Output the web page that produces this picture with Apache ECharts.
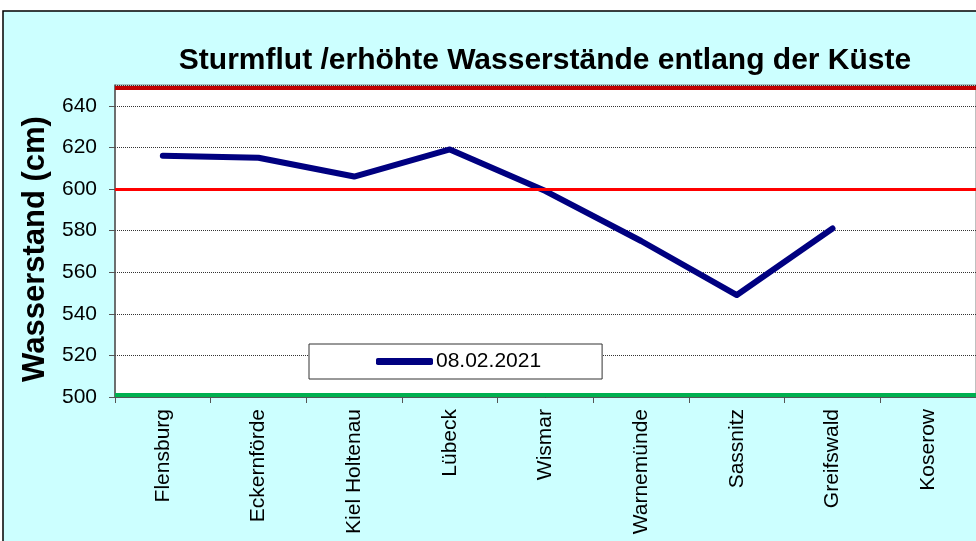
<!DOCTYPE html>
<html><head><meta charset="utf-8">
<script src="https://cdn.jsdelivr.net/npm/echarts@6/dist/echarts.min.js"></script>
<style>html,body{margin:0;padding:0;background:#fff}#c{width:976px;height:541px}</style>
</head><body><div id="c"></div>
<script>
const titleText = 'Sturmflut /erhöhte Wasserstände entlang der Küste';
const yAxisName = 'Wasserstand (cm)';
const categories = ['Flensburg','Eckernförde','Kiel Holtenau','Lübeck','Wismar','Warnemünde','Sassnitz','Greifswald','Koserow'];
const seriesName = '08.02.2021';
const levels = [616, 615, 606, 619, 599, 575, 549, 581, null];
const yMin = 500, yMax = 650, yStep = 20;
const upperLine = 648.5;   // dark red line at top
const warnLine = 600;      // red line
const lowerLine = 501;     // green line at bottom

const chart = echarts.init(document.getElementById('c'), null, {renderer:'canvas'});
const F = 'Liberation Sans, Arial, sans-serif';
chart.setOption({
  animation:false,
  backgroundColor:'#fff',
  graphic:[
    {type:'rect', z:-10, shape:{x:3,y:11,width:990,height:560}, style:{fill:'#CCFFFF', stroke:'#000', lineWidth:1.5}},
    {type:'text', z:10, x:35, y:249, rotation:Math.PI/2,
      style:{text:yAxisName, fontFamily:F, fontSize:31, fontWeight:'bold', fill:'#000', align:'center', verticalAlign:'middle'}}
  ],
  title:{text:titleText, left:540, textAlign:'center', top:41,
    textStyle:{fontFamily:F, fontSize:30, fontWeight:'bold', color:'#000'}},
  legend:{data:[{name:seriesName}], left:309, top:344, orient:'horizontal',
    backgroundColor:'#fff', borderColor:'#333', borderWidth:1, padding:[7,61,7,67],
    itemWidth:57, itemHeight:7, itemGap:0, icon:'roundRect',
    textStyle:{fontFamily:F, fontSize:21, color:'#000', padding:[0,0,0,-2]}},
  grid:{left:115, top:85, width:864, height:312, show:true, backgroundColor:'#fff', borderColor:'#808080', borderWidth:1},
  xAxis:{type:'category', data:categories, boundaryGap:true,
    axisLine:{lineStyle:{color:'#555'}},
    axisTick:{show:true, inside:false, length:6, lineStyle:{color:'#555'}},
    axisLabel:{rotate:90, margin:12, fontFamily:F, fontSize:21, color:'#000', interval:0}},
  yAxis:{type:'value', min:yMin, max:yMax, interval:yStep,
    axisLine:{show:true, lineStyle:{color:'#555', width:1.5}},
    axisTick:{show:true, inside:false, length:6, lineStyle:{color:'#555'}},
    axisLabel:{fontFamily:F, fontSize:21, color:'#000', margin:18, showMaxLabel:false,
      formatter:v => v === yMax ? '' : String(v)},
    splitLine:{show:true, lineStyle:{color:'#333', type:[1,1], width:1}}},
  series:[{name:seriesName, type:'line', data:levels, showSymbol:false, symbol:'none',
    color:'#000080', connectNulls:false,
    lineStyle:{color:'#000080', width:6, cap:'round', join:'round'},
    markLine:{silent:true, symbol:'none', label:{show:false}, animation:false,
      data:[
        {yAxis:upperLine, lineStyle:{color:'#C00000', width:4, type:'solid'}},
        {yAxis:warnLine, lineStyle:{color:'#FF0000', width:3, type:'solid'}},
        {yAxis:lowerLine, lineStyle:{color:'#00B050', width:4, type:'solid'}}
      ]}
  }]
});
</script></body></html>
